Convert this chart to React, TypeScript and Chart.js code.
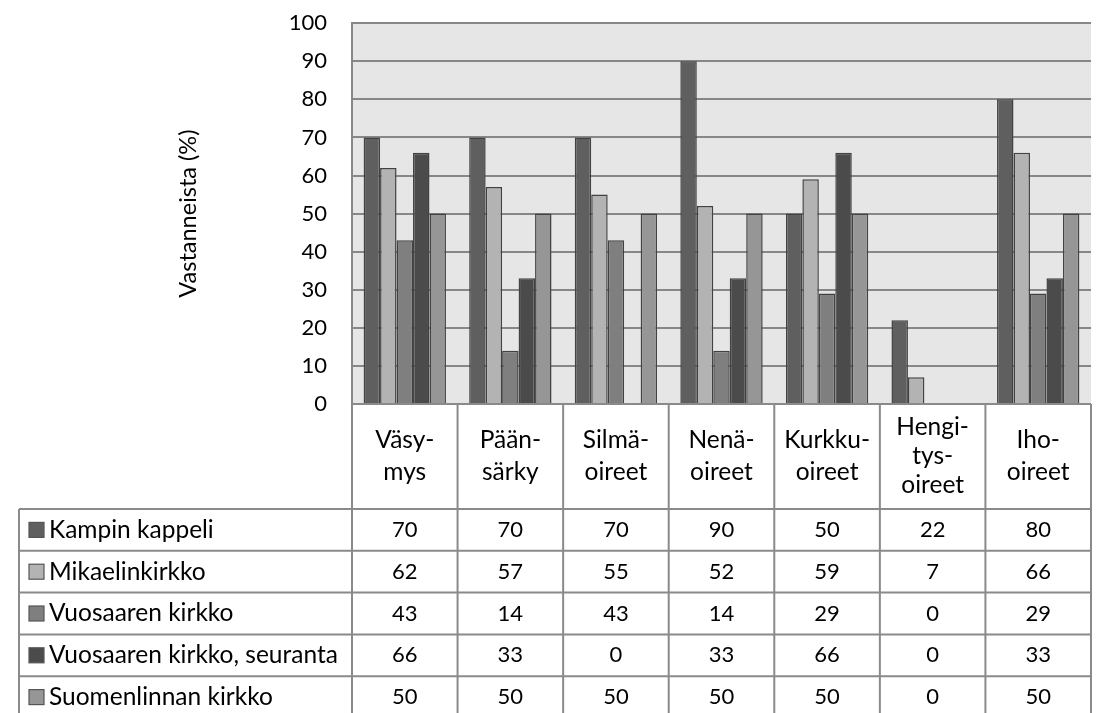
import React, { useEffect, useRef } from 'react';
import { Chart, registerables } from 'chart.js';

Chart.register(...registerables);

const categories: string[][] = [
  ['Väsy-', 'mys'],
  ['Pään-', 'särky'],
  ['Silmä-', 'oireet'],
  ['Nenä-', 'oireet'],
  ['Kurkku-', 'oireet'],
  ['Hengi-', 'tys-', 'oireet'],
  ['Iho-', 'oireet'],
];

const seriesNames = [
  'Kampin kappeli',
  'Mikaelinkirkko',
  'Vuosaaren kirkko',
  'Vuosaaren kirkko, seuranta',
  'Suomenlinnan kirkko',
];

const kampinKappeli = [70, 70, 70, 90, 50, 22, 80];
const mikaelinkirkko = [62, 57, 55, 52, 59, 7, 66];
const vuosaarenKirkko = [43, 14, 43, 14, 29, 0, 29];
const vuosaarenSeuranta = [66, 33, 0, 33, 66, 0, 33];
const suomenlinnanKirkko = [50, 50, 50, 50, 50, 0, 50];

const seriesValues = [kampinKappeli, mikaelinkirkko, vuosaarenKirkko, vuosaarenSeuranta, suomenlinnanKirkko];
const seriesColors = ['#5f5f5f', '#b3b3b3', '#7f7f7f', '#4b4b4b', '#969696'];

const yTitle = 'Vastanneista (%)';

const FONT = 'Lato, "DejaVu Sans", sans-serif';
const LINE = '#8a8a8a';

const plotBackground = {
  id: 'plotBackground',
  beforeDraw(chart: Chart) {
    const { ctx, chartArea } = chart;
    ctx.save();
    ctx.fillStyle = '#e6e6e6';
    ctx.fillRect(chartArea.left, chartArea.top, chartArea.right - chartArea.left, chartArea.bottom - chartArea.top);
    ctx.restore();
  },
};

// data table under the plot, Excel style
const dataTable = {
  id: 'dataTable',
  afterDraw(chart: Chart) {
    const { ctx, chartArea } = chart;
    const xScale = chart.scales.x;
    const colW = (chartArea.right - chartArea.left) / categories.length;
    const tableLeft = 19;
    const headTop = chartArea.bottom;
    const headBottom = headTop + 105;
    const rowH = 41.8;
    const tableBottom = headBottom + rowH * seriesNames.length;

    ctx.save();
    ctx.strokeStyle = LINE;
    ctx.lineWidth = 2;

    // horizontal lines
    ctx.beginPath();
    ctx.moveTo(chartArea.left, headTop);
    ctx.lineTo(chartArea.right, headTop);
    for (let r = 0; r <= seriesNames.length; r++) {
      const y = headBottom + r * rowH;
      ctx.moveTo(tableLeft, y);
      ctx.lineTo(chartArea.right, y);
    }
    // vertical lines
    ctx.moveTo(tableLeft, headBottom);
    ctx.lineTo(tableLeft, tableBottom);
    for (let i = 0; i <= categories.length; i++) {
      const x = chartArea.left + i * colW;
      ctx.moveTo(x, headTop);
      ctx.lineTo(x, tableBottom);
    }
    ctx.stroke();

    ctx.fillStyle = '#000';
    ctx.font = `24.5px ${FONT}`;
    ctx.textBaseline = 'middle';
    ctx.textAlign = 'center';

    // category headers
    categories.forEach((lines, i) => {
      const cx = xScale.getPixelForValue(i);
      const lh = lines.length > 2 ? 29 : 32;
      const mid = (headTop + headBottom) / 2;
      lines.forEach((t, k) => {
        ctx.fillText(t, cx, mid + (k - (lines.length - 1) / 2) * lh);
      });
    });

    // rows
    seriesNames.forEach((name, r) => {
      const cy = headBottom + r * rowH + rowH / 2;
      ctx.fillStyle = seriesColors[r];
      ctx.fillRect(29, cy - 7.5, 15, 15);
      ctx.strokeStyle = '#555';
      ctx.lineWidth = 1.2;
      ctx.strokeRect(29, cy - 7.5, 15, 15);
      ctx.fillStyle = '#000';
      ctx.textAlign = 'left';
      ctx.font = `24.5px ${FONT}`;
      ctx.fillText(name, 49, cy);
      ctx.textAlign = 'center';
      ctx.font = `22px ${FONT}`;
      seriesValues[r].forEach((v, i) => {
        ctx.fillText(String(v), xScale.getPixelForValue(i), cy);
      });
    });
    ctx.restore();
  },
};

const App: React.FC = () => {
  const canvasRef = useRef<HTMLCanvasElement | null>(null);
  const chartRef = useRef<Chart | null>(null);

  useEffect(() => {
    if (!canvasRef.current) return;
    if (chartRef.current) chartRef.current.destroy();

    chartRef.current = new Chart(canvasRef.current, {
      type: 'bar',
      data: {
        labels: categories.map((c) => c.join('')),
        datasets: seriesNames.map((name, i) => ({
          label: name,
          data: seriesValues[i],
          backgroundColor: seriesColors[i],
          borderColor: '#424242',
          borderWidth: 1.5,
          barPercentage: 1,
          categoryPercentage: 0.78,
        })),
      },
      options: {
        responsive: true,
        maintainAspectRatio: false,
        animation: false,
        layout: { padding: { left: 170, top: 10, right: 5, bottom: 309 } },
        plugins: {
          legend: { display: false },
          tooltip: { enabled: false },
        },
        scales: {
          x: { display: false },
          y: {
            min: 0,
            max: 100,
            afterFit: (s: any) => {
              s.width = 182;
            },
            ticks: {
              stepSize: 10,
              padding: 10,
              color: '#000',
              font: { family: FONT, size: 22 },
            },
            grid: { color: '#878787', lineWidth: 2, drawTicks: true, tickLength: 15, tickColor: 'rgba(0,0,0,0)' },
            border: { display: true, color: '#878787', width: 2 },
            title: {
              display: true,
              text: yTitle,
              color: '#000',
              font: { family: FONT, size: 23.5 },
            },
          },
        },
      },
      plugins: [plotBackground, dataTable],
    });

    return () => {
      if (chartRef.current) {
        chartRef.current.destroy();
        chartRef.current = null;
      }
    };
  }, []);

  return (
    <div style={{ position: 'fixed', left: 0, top: 0, width: 1096, height: 713, background: '#fff' }}>
      <canvas ref={canvasRef}></canvas>
    </div>
  );
};

export default App;
